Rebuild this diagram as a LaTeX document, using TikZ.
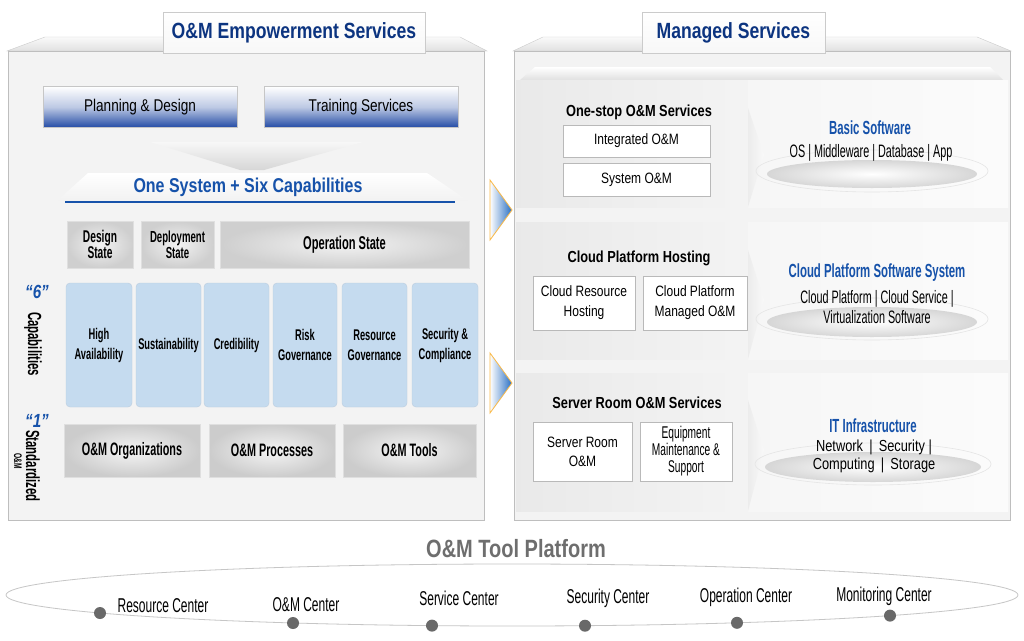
\documentclass[tikz,border=0pt]{standalone}
\usepackage{fontspec}
\setmainfont{Liberation Sans}[FakeStretch=0.8]
\newfontfamily\narrowf{Liberation Sans}[FakeStretch=0.6]
\newcommand{\fsz}[2]{\fontsize{#1}{#2}\selectfont}

\begin{document}
\begin{tikzpicture}[
  x=1pt, y=-1pt,
  panel/.style={draw=panelln, fill=panelbg, line width=0.8pt},
  bevel/.style={draw=panelln!80, top color=gray!4, bottom color=gray!24},
  tabbox/.style={draw=panelln!80, top color=white, bottom color=gray!6, minimum height=41pt,
    font=\bfseries\fsz{22}{26}, text=ttlblue},
  planbox/.style={draw=gray!45, top color=white, bottom color=svcblue, middle color=svcblue!30,
    minimum width=194pt, minimum height=41pt, font=\fsz{17}{20}},
  statebox/.style={draw=gray!25, inner color=gray!10, outer color=gray!38, minimum height=47pt,
    align=center, font=\narrowf\bfseries\fsz{17}{16}},
  capbox/.style={draw=capblue!85!gray, fill=capblue, rounded corners=4pt, minimum height=124pt,
    inner sep=1pt, align=center, font=\narrowf\bfseries\fsz{15.5}{20}},
  basebox/.style={draw=gray!25, inner color=gray!8, outer color=gray!40, minimum height=53pt,
    font=\narrowf\bfseries\fsz{18}{20}},
  sidelbl/.style={rotate=-90, font=\narrowf\bfseries\fsz{19}{20}},
  numlbl/.style={font=\bfseries\itshape\fsz{19}{20}, text=hdblue},
  arrowtri/.style={draw=arrowor, line width=0.8pt, left color=white, right color=arrowbl},
  sechd/.style={font=\bfseries\fsz{16}{19}},
  wbox/.style={draw=gray!55, fill=white, line width=0.8pt, align=center, font=\fsz{15}{20}},
  bluehd/.style={font=\narrowf\bfseries\fsz{19}{20}, text=hdblue},
  descr/.style={align=center, font=\narrowf\fsz{18}{20}},
  disc/.style={inner color=white, outer color=gray!32},
  ring/.style={draw=gray!20, line width=0.6pt},
  ctr/.style={font=\narrowf\fsz{20}{22}},
  cpnt/.style={fill=dotgray},
]
\definecolor{panelbg}{RGB}{243,243,243}
\definecolor{panelln}{RGB}{190,190,190}
\definecolor{ttlblue}{RGB}{12,52,128}
\definecolor{hdblue}{RGB}{22,82,170}
\definecolor{svcblue}{RGB}{35,75,165}
\definecolor{capblue}{RGB}{197,219,239}
\definecolor{txtgray}{RGB}{110,110,110}
\definecolor{arrowor}{RGB}{250,185,70}
\definecolor{arrowbl}{RGB}{40,110,195}
\definecolor{dotgray}{RGB}{105,105,105}

\useasboundingbox [fill=white] (0,0) rectangle (1024,640);

% O&M empowerment services
\draw [bevel] (45,37) -- (460,37) -- (487,51) -- (7,51) -- cycle;
\draw [panel] (8,51) rectangle (484,520);
\node [tabbox, minimum width=262pt] (empTab) at (294,32.5) {O\&M Empowerment Services};

\node [planbox] (plan) at (140,107) {Planning \& Design};
\node [planbox] (train) at (361,107) {Training Services};

\shade [top color=gray!6, bottom color=gray!32] (150,142) -- (363,142) -- (264,170) -- (240,170) -- cycle;
\shade [top color=white, bottom color=gray!10] (88,173) -- (427,173) -- (467,200) -- (58,200) -- cycle;
\draw [hdblue, line width=2.2pt] (65,202) -- (455,202);
\node [font=\bfseries\fsz{20}{24}, text=hdblue] (oneSys) at (248,187) {One System + Six Capabilities};

\node [statebox, minimum width=66pt] (dsgn) at (100,244.5) {Design\\State};
\node [statebox, minimum width=73pt, font=\narrowf\bfseries\fsz{16}{16}] (depl) at (177.5,244.5) {Deployment\\State};
\node [statebox, minimum width=249pt, font=\narrowf\bfseries\fsz{18.5}{19}] (oper) at (344.5,244.5) {Operation State};

\node [numlbl] (six) at (37,292) {“6”};
\node [sidelbl] (capLbl) at (33,344) {Capabilities};
\node [numlbl] (one) at (37,421) {“1”};
\node [sidelbl] (stdLbl) at (33,466) {Standardized};
\node [rotate=-90, font=\narrowf\bfseries\fsz{11}{12}] (stdOm) at (18,461) {O\&M};

\node [capbox, minimum width=66pt] (capHA) at (99,345) {High\\Availability};
\node [capbox, minimum width=65pt] (capSus) at (168.5,345) {Sustainability};
\node [capbox, minimum width=65pt] (capCred) at (236.5,345) {Credibility};
\node [capbox, minimum width=64pt] (capRisk) at (305,345) {Risk\\Governance};
\node [capbox, minimum width=65pt] (capRes) at (374.5,345) {Resource\\Governance};
\node [capbox, minimum width=66pt] (capSec) at (445,345) {Security \&\\Compliance};

\node [basebox, minimum width=136pt] (org) at (132,450.5) {O\&M Organizations};
\node [basebox, minimum width=126pt] (proc) at (272,450.5) {O\&M Processes};
\node [basebox, minimum width=133pt] (tools) at (409.5,450.5) {O\&M Tools};

\draw [arrowtri] (490,180) -- (512,210) -- (490,240) -- cycle;
\draw [arrowtri] (490,353) -- (512,383) -- (490,413) -- cycle;

% managed services
\draw [bevel] (543,37) -- (977,37) -- (1011,51) -- (513,51) -- cycle;
\draw [panel] (514,51) rectangle (1010,520);
\node [tabbox, minimum width=183pt] (mgdTab) at (733.5,32.5) {Managed Services};
\shade [top color=white, bottom color=gray!24] (535,67) -- (990,67) -- (1003,80) -- (520,80) -- cycle;

\shade [left color=gray!17, right color=gray!9] (516,80) rectangle (748,207);
\shade [left color=gray!7, right color=gray!3] (748,80) rectangle (1008,207);
\shade [left color=gray!15, right color=gray!5] (748,108) -- (764,155) -- (748,207) -- cycle;

\shade [left color=gray!17, right color=gray!9] (516,222) rectangle (748,359);
\shade [left color=gray!7, right color=gray!3] (748,222) rectangle (1008,359);
\shade [left color=gray!15, right color=gray!5] (748,250) -- (764,300) -- (748,359) -- cycle;

\shade [left color=gray!17, right color=gray!9] (516,373) rectangle (748,511);
\shade [left color=gray!7, right color=gray!3] (748,373) rectangle (1008,511);
\shade [left color=gray!15, right color=gray!5] (748,400) -- (764,450) -- (748,511) -- cycle;

\draw [ring] (872,171) ellipse [x radius=116pt, y radius=21pt];
\shade [disc] (872,174) ellipse [x radius=105pt, y radius=14pt];
\draw [ring] (872,319) ellipse [x radius=116pt, y radius=21pt];
\shade [disc] (872,322) ellipse [x radius=105pt, y radius=15pt];
\draw [ring] (873,464) ellipse [x radius=118pt, y radius=21pt];
\shade [disc] (873,467) ellipse [x radius=108pt, y radius=15pt];

\node [sechd] (oneStop) at (639,112) {One-stop O\&M Services};
\node [wbox, minimum width=147pt, minimum height=32pt] (intOm) at (636.5,141) {Integrated O\&M};
\node [wbox, minimum width=147pt, minimum height=33pt] (sysOm) at (636.5,179.5) {System O\&M};
\node [bluehd] (basicSw) at (870,128) {Basic Software};
\node [descr] (basicLst) at (871,153) {OS | Middleware | Database | App};

\node [sechd] (cloudHost) at (639,258) {Cloud Platform Hosting};
\node [wbox, minimum width=102pt, minimum height=54pt] (cloudRes) at (584,303) {Cloud Resource\\Hosting};
\node [wbox, minimum width=104pt, minimum height=54pt] (cloudMgd) at (695,303) {Cloud Platform\\Managed O\&M};
\node [bluehd] (cloudSw) at (877,273) {Cloud Platform Software System};
\node [descr] (cloudLst) at (877,307) {Cloud Platform | Cloud Service |\\Virtualization Software};

\node [sechd] (srvRoom) at (637,403) {Server Room O\&M Services};
\node [wbox, minimum width=99pt, minimum height=59pt, font=\fsz{15}{19}] (srvOm) at (582.5,451.5) {Server Room\\O\&M};
\node [wbox, minimum width=92pt, minimum height=59pt, font=\narrowf\fsz{17}{17}] (equip) at (686,451.5) {Equipment\\Maintenance \&\\Support};
\node [bluehd] (itInfra) at (873,426) {IT Infrastructure};
\node [descr, font=\fsz{16}{18}] (itLst) at (874,456) {Network \,|\, Security |\\Computing \,|\, Storage};

% O&M tool platform
\node [font=\bfseries\fsz{25}{28}, text=txtgray] (toolTtl) at (516,549) {O\&M Tool Platform};
\draw [gray!45, line width=0.8pt] (512,595) ellipse [x radius=506pt, y radius=31pt];

\path [cpnt] (100,613) circle [radius=6pt];
\path [cpnt] (293,623) circle [radius=6pt];
\path [cpnt] (432,625.6) circle [radius=6pt];
\path [cpnt] (585,625.7) circle [radius=6pt];
\path [cpnt] (737,622.8) circle [radius=6pt];
\path [cpnt] (890,615.6) circle [radius=6pt];

\node [ctr] (resCtr) at (163,606) {Resource Center};
\node [ctr] (omCtr) at (306,605) {O\&M Center};
\node [ctr] (svcCtr) at (459,598) {Service Center};
\node [ctr] (secCtr) at (608,598) {Security Center};
\node [ctr] (opCtr) at (746,597) {Operation Center};
\node [ctr] (monCtr) at (884,596) {Monitoring Center};

\end{tikzpicture}
\end{document}
